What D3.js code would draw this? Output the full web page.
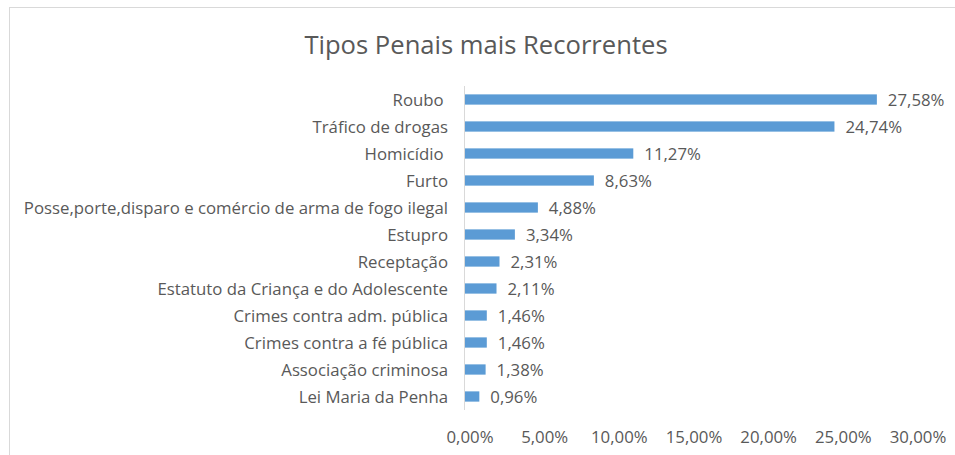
<!DOCTYPE html>
<html>
<head>
<meta charset="utf-8">
<script src="https://cdn.jsdelivr.net/npm/d3@7"></script>
<style>
  body { margin: 0; background: #fff; }
  text { font-family: "Open Sans", sans-serif; fill: #595959; }
</style>
</head>
<body>
<svg id="chart" width="955" height="455"></svg>
<script>
// chart data
const categories = ["Roubo ", "Tráfico de drogas", "Homicídio ", "Furto",
  "Posse,porte,disparo e comércio de arma de fogo ilegal", "Estupro", "Receptação",
  "Estatuto da Criança e do Adolescente", "Crimes contra adm. pública",
  "Crimes contra a fé pública", "Associação criminosa", "Lei Maria da Penha"];
const values = [27.58, 24.74, 11.27, 8.63, 4.88, 3.34, 2.31, 2.11, 1.46, 1.46, 1.38, 0.96];
const ticks = [0, 5, 10, 15, 20, 25, 30];
const title = "Tipos Penais mais Recorrentes";

const svg = d3.select("#chart");
const margin = {top: 86, left: 465, right: 42, bottom: 45};
const width = 955 - margin.left - margin.right;
const height = 455 - margin.top - margin.bottom;

const fmt = v => v.toFixed(2).replace(".", ",") + "%";

// chart area border
svg.append("rect")
  .attr("x", 9.5).attr("y", 7.5)
  .attr("width", 1000).attr("height", 1000)
  .attr("fill", "none").attr("stroke", "#d9d9d9");

svg.append("text")
  .attr("x", 486).attr("y", 54)
  .attr("text-anchor", "middle")
  .style("font-size", "25.6px")
  .text(title);

const g = svg.append("g")
  .attr("transform", "translate(" + margin.left + "," + margin.top + ")");

const x = d3.scaleLinear().domain([0, 30]).range([0, width]);
const y = d3.scaleBand().domain(categories).range([0, height]).paddingInner(0.62).paddingOuter(0.31);

g.selectAll("rect.bar").data(values).join("rect")
  .attr("class", "bar")
  .attr("x", 0)
  .attr("y", (d, i) => y(categories[i]))
  .attr("width", d => x(d))
  .attr("height", y.bandwidth())
  .attr("fill", "#5b9bd5");

g.selectAll("text.val").data(values).join("text")
  .attr("class", "val")
  .attr("x", d => x(d) + 11)
  .attr("y", (d, i) => y(categories[i]) + y.bandwidth() / 2)
  .attr("dy", "0.36em")
  .style("font-size", "16.8px")
  .text(fmt);

g.selectAll("text.cat").data(categories).join("text")
  .attr("class", "cat")
  .attr("x", -17)
  .attr("y", d => y(d) + y.bandwidth() / 2)
  .attr("dy", "0.36em")
  .attr("text-anchor", "end")
  .style("font-size", "16.8px")
  .style("white-space", "pre")
  .text(d => d);

// vertical category axis line
g.append("line")
  .attr("x1", -0.5).attr("x2", -0.5)
  .attr("y1", 0).attr("y2", height)
  .attr("stroke", "#d9d9d9");

g.selectAll("text.tick").data(ticks).join("text")
  .attr("class", "tick")
  .attr("x", d => x(d) + 5)
  .attr("y", height + 33)
  .attr("text-anchor", "middle")
  .style("font-size", "16.8px")
  .text(d => fmt(d));
</script>
</body>
</html>
